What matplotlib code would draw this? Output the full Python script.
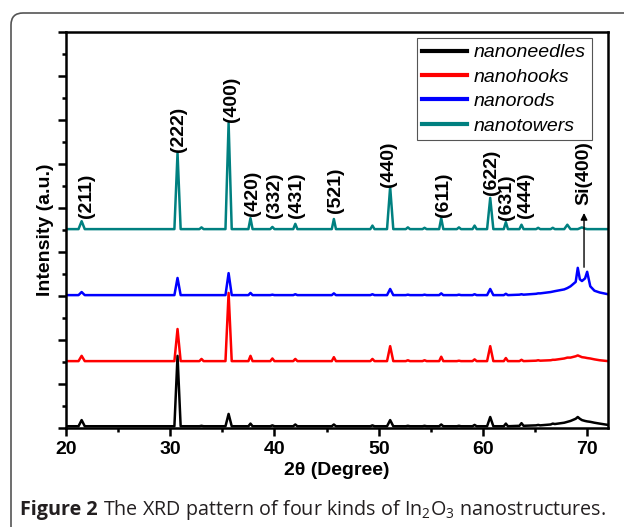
import numpy as np
import matplotlib
matplotlib.use("Agg")
import matplotlib.pyplot as plt
from matplotlib.patches import FancyBboxPatch
from matplotlib.transforms import IdentityTransform

plt.rcParams['font.family'] = ['Liberation Sans', 'DejaVu Sans']
plt.rcParams['mathtext.fontset'] = 'custom'
plt.rcParams['mathtext.rm'] = 'Open Sans'

# 2theta grid (degrees)
two_theta = [20.0,
             21.2, 21.5, 21.8, 30.4, 30.7, 31.0, 32.8, 33.0, 33.2,
             35.3, 35.6, 35.9, 37.5, 37.7, 37.9, 39.6, 39.8, 40.0,
             41.8, 42.0, 42.2, 45.5, 45.7, 45.9, 49.2, 49.4, 49.6,
             50.8, 51.1, 51.4, 52.6, 52.8, 53.0, 54.2, 54.4, 54.6,
             55.8, 56.0, 56.2, 57.5, 57.7, 57.9, 59.0, 59.2, 59.4,
             60.4, 60.7, 61.0, 62.0, 62.2, 62.4, 63.5, 63.7, 63.9,
             65.1, 65.3, 65.5, 66.5, 66.7, 66.9,
             67.8, 68.1, 68.4, 68.9, 69.1, 69.3, 69.5, 69.8, 70.0, 70.3, 70.7, 71.2, 72.0]

# intensities (a.u.), each relative to its own baseline
nanoneedles = [0.0,
               0, .14, 0, 0, 1.60, 0, 0, .01, 0,
               0, .28, 0, 0, .06, 0, 0, .02, 0,
               0, .04, 0, 0, .04, 0, 0, .02, 0,
               0, .14, 0, 0, .01, 0, 0, .01, 0,
               0, .04, 0, 0, .01, 0, 0, .03, 0,
               0, .21, 0, 0, .06, 0, .01, .07, .01,
               .02, .03, .02, .04, .06, .05,
               .08, .10, .12, .17, .21, .17, .14, .12, .11, .10, .08, .06, .03]

nanohooks = [0.0,
             0, .12, 0, 0, .73, 0, 0, .05, 0,
             0, 1.55, 0, 0, .12, 0, 0, .06, 0,
             0, .05, 0, 0, .09, 0, 0, .05, 0,
             0, .34, 0, 0, .02, 0, 0, .02, 0,
             0, .10, 0, 0, .01, 0, 0, .04, 0,
             0, .34, 0, 0, .07, 0, 0, .03, 0,
             .01, .02, .01, .02, .03, .03,
             .06, .08, .08, .11, .13, .11, .09, .08, .07, .06, .04, .02, 0]

nanorods = [0.0,
            0, .07, 0, 0, .39, 0, 0, 0, 0,
            0, .50, 0, 0, .05, 0, 0, .01, 0,
            0, .02, 0, 0, .04, 0, 0, .02, 0,
            0, .14, 0, 0, .01, 0, 0, .01, 0,
            0, .04, 0, 0, .01, 0, 0, .02, 0,
            0, .14, 0, 0, .03, 0, .01, .02, .01,
            .03, .04, .04, .07, .08, .09,
            .13, .16, .20, .30, .62, .36, .32, .38, .53, .20, .10, .06, .02]

nanotowers = [0.0,
              0, .18, 0, 0, 1.73, 0, 0, .04, 0,
              0, 2.41, 0, 0, .25, 0, 0, .05, 0,
              0, .12, 0, 0, .23, 0, 0, .08, 0,
              0, .96, 0, 0, .04, 0, 0, .03, 0,
              0, .25, 0, 0, .04, 0, 0, .08, 0,
              0, .71, 0, 0, .16, 0, 0, .10, 0,
              0, .03, 0, 0, .03, 0,
              0, .10, 0, 0, 0, .02, .04, .01, 0, 0, 0, 0, 0]

series = [nanoneedles, nanohooks, nanorods, nanotowers]
names = ['nanoneedles', 'nanohooks', 'nanorods', 'nanotowers']
colors = ['#000000', '#ff0000', '#0000ff', '#008080']
offsets = [0.04, 1.52, 3.02, 4.52]

# (hkl) labels: text, 2theta, bottom of label
hkl_text = ['(211)', '(222)', '(400)', '(420)', '(332)', '(431)', '(521)',
            '(440)', '(611)', '(622)', '(631)', '(444)']
hkl_x = [22.0, 30.75, 35.9, 37.9, 40.0, 42.1, 45.9, 50.9, 56.2, 60.8, 62.3, 64.1]
hkl_y = [4.77, 6.27, 6.95, 4.82, 4.77, 4.77, 4.89, 5.48, 4.80, 5.30, 4.73, 4.77]

fig = plt.figure(figsize=(6.24, 5.27), dpi=100)
ax = fig.add_axes([66 / 624, 99 / 527, 542 / 624, 396 / 527])

x = np.array(two_theta)
for ys, name, c, off in zip(series, names, colors, offsets):
    ax.plot(x, np.array(ys) + off, color=c, lw=1.8, label=name)

for t, hx, hy in zip(hkl_text, hkl_x, hkl_y):
    ax.text(hx, hy, t, rotation=90, ha='center', va='bottom',
            fontsize=14, fontweight='bold')

ax.annotate('', xy=(69.7, 4.95), xytext=(69.7, 3.59),
            arrowprops=dict(arrowstyle='-|>', color='black', lw=1.0,
                            mutation_scale=10))
ax.text(69.7, 5.07, 'Si(400)', rotation=90, ha='center', va='bottom',
        fontsize=14, fontweight='bold')

ax.set_xlim(20, 72)
ax.set_ylim(0, 9)
ax.set_xticks([20, 30, 40, 50, 60, 70])
ax.set_xticks(np.arange(25, 72, 10), minor=True)
ax.set_yticks(np.arange(0, 9.01, 1))
ax.set_yticks(np.arange(0.5, 9, 1), minor=True)
ax.set_yticklabels([])
ax.tick_params(which='both', direction='out', width=1.8, top=False, right=False)
ax.tick_params(which='major', length=6)
ax.tick_params(which='minor', length=3)
ax.tick_params(axis='x', labelsize=14, pad=3)
for lab in ax.get_xticklabels():
    lab.set_fontweight('bold')
for sp in ax.spines.values():
    sp.set_linewidth(1.8)

ax.set_xlabel('2θ (Degree)', fontsize=14, fontweight='bold', labelpad=3)
ax.set_ylabel('Intensity (a.u.)', fontsize=14, fontweight='bold', labelpad=-1)

leg = ax.legend(loc='upper right', bbox_to_anchor=(0.97, 0.985),
                prop={'style': 'italic', 'size': 14}, fancybox=False,
                edgecolor='#555555', framealpha=1, handlelength=2.3,
                handletextpad=0.35, labelspacing=0.35, borderpad=0.3,
                borderaxespad=0)
leg.get_frame().set_linewidth(0.8)
for ln in leg.get_lines():
    ln.set_linewidth(3)

# outer rounded frame (pixel coordinates)
frame = FancyBboxPatch((11, -30), 650, 527 - 13 + 30,
                       boxstyle='round,pad=0,rounding_size=12',
                       transform=IdentityTransform(), fill=False,
                       edgecolor='#555555', lw=1.2)
fig.patches.append(frame)

cap1 = fig.text(20 / 624, 17 / 527, 'Figure 2', fontsize=14.2, fontweight='bold',
                family='Open Sans', color='#231f20', va='center')
fig.canvas.draw()
bb = cap1.get_window_extent()
fig.text((bb.x1 + 5) / 624, 17 / 527,
         'The XRD pattern of four kinds of In$_2$O$_3$ nanostructures.',
         fontsize=14.2, family='Open Sans', color='#231f20', va='center')

fig.savefig('out.png', dpi=100)
